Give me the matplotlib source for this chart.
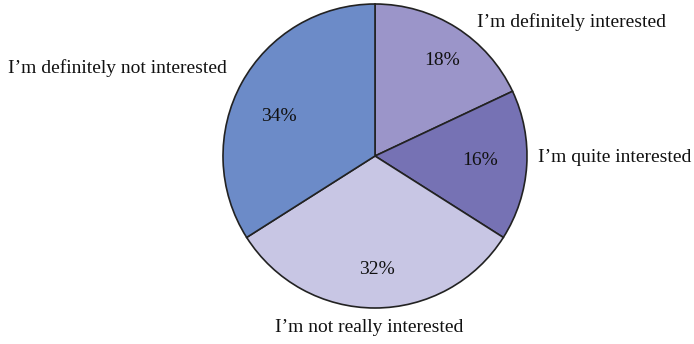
import matplotlib.pyplot as plt

labels = ["I\u2019m definitely interested", "I\u2019m quite interested",
          "I\u2019m not really interested", "I\u2019m definitely not interested"]
values = [18, 16, 32, 34]
colors = ["#9b95c9", "#7672b4", "#c8c6e4", "#6c8bc8"]

plt.rcParams['font.family'] = ['Liberation Serif', 'DejaVu Serif']

fig = plt.figure(figsize=(6.94, 3.44), dpi=100)
# square axes box so the pie has radius ~152 px centred at (375, 156)
ax = fig.add_axes([223 / 694, 36 / 344, 304 / 694, 304 / 344])

wedges, texts, autotexts = ax.pie(values, colors=colors, startangle=90, counterclock=False,
                                  autopct='%d%%', pctdistance=0.72,
                                  wedgeprops=dict(edgecolor='#222222', linewidth=1.2),
                                  textprops=dict(fontsize=14, color='#111111'))
ax.set_xlim(-1, 1)
ax.set_ylim(-1, 1)

# nudge percentage labels to where the reference has them
pct_pos = [(0.44, 0.63), (0.69, -0.03), (0.01, -0.75), (-0.63, 0.26)]
for t, (x, y) in zip(autotexts, pct_pos):
    t.set_position((x, y))

# category labels placed outside the pie
label_pos = [(1.296, 0.882, 'center'), (1.072, -0.013, 'left'),
             (-0.04, -1.125, 'center'), (-1.697, 0.579, 'center')]
for lab, (x, y, ha) in zip(labels, label_pos):
    ax.text(x, y, lab, ha=ha, va='center', fontsize=14, color='#111111', clip_on=False)

fig.savefig('out.png', dpi=100)
